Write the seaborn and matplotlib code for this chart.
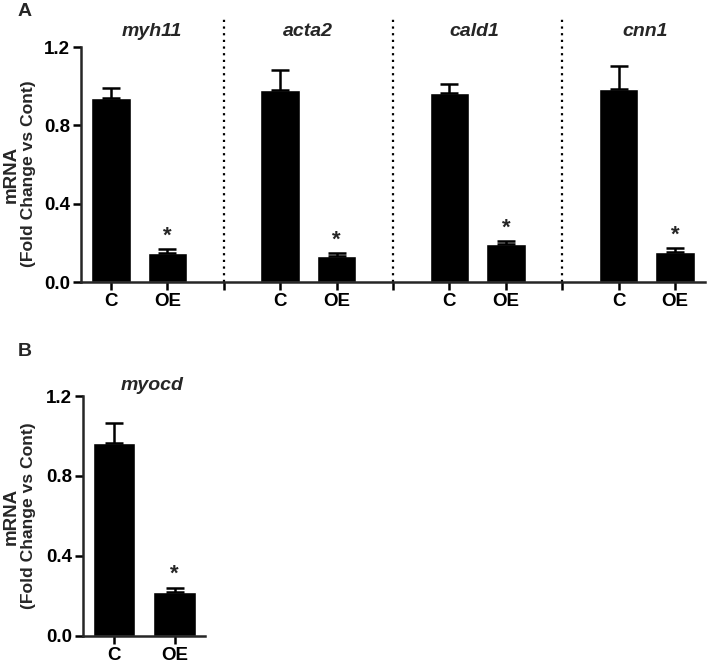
import matplotlib
matplotlib.use("Agg")
import matplotlib.pyplot as plt
import seaborn as sns
import pandas as pd

# datos
genes_a = ["myh11", "acta2", "cald1", "cnn1"]
grupos = ["C", "OE"]
media_c = [0.94, 0.98, 0.965, 0.985]
error_c = [0.05, 0.10, 0.045, 0.12]
media_oe = [0.15, 0.133, 0.194, 0.155]
error_oe = [0.017, 0.017, 0.017, 0.017]

gen_b = "myocd"
media_b = [0.963, 0.218]
error_b = [0.104, 0.024]

sns.set_style("ticks")
plt.rcParams["font.family"] = ["Liberation Sans", "DejaVu Sans"]

# tabla para el panel A, con huecos entre genes
etiquetas = []
valores = []
errores = []
orden = []
for i, g in enumerate(genes_a):
    for grp, m, e in zip(grupos, [media_c[i], media_oe[i]], [error_c[i], error_oe[i]]):
        etiquetas.append(g + " " + grp)
        valores.append(m)
        errores.append(e)
        orden.append(g + " " + grp)
    if i < len(genes_a) - 1:
        orden.append("hueco" + str(i))

df_a = pd.DataFrame({"cat": etiquetas, "valor": valores})
df_b = pd.DataFrame({"cat": grupos, "valor": media_b})

fig = plt.figure(figsize=(7.1, 6.63), dpi=100)
axA = fig.add_axes([81 / 710, 1 - 282 / 663, 624 / 710, 235 / 663])
axB = fig.add_axes([83 / 710, 1 - 636 / 663, 122 / 710, 240 / 663])

sns.barplot(data=df_a, x="cat", y="valor", order=orden, color="black",
            width=0.7, errorbar=None, saturation=1, ax=axA)
sns.barplot(data=df_b, x="cat", y="valor", order=grupos, color="black",
            width=0.7, errorbar=None, saturation=1, ax=axB)

pos_a = [orden.index(c) for c in etiquetas]
axA.errorbar(pos_a, valores, yerr=[[0] * len(errores), errores], fmt="none",
             ecolor="black", elinewidth=1.8, capsize=6.5, capthick=1.8, zorder=1)
axB.errorbar([0, 1], media_b, yerr=[[0, 0], error_b], fmt="none",
             ecolor="black", elinewidth=1.8, capsize=6.5, capthick=1.8, zorder=1)

# asteriscos sobre OE
for i in range(len(genes_a)):
    x = orden.index(genes_a[i] + " OE")
    axA.text(x, media_oe[i] + error_oe[i] + 0.012, "*", ha="center", va="bottom",
             fontsize=16, fontweight="bold")
axB.text(1, media_b[1] + error_b[1] + 0.012, "*", ha="center", va="bottom",
         fontsize=16, fontweight="bold")

# separadores punteados
divisores = [orden.index("hueco" + str(i)) for i in range(len(genes_a) - 1)]
for d in divisores:
    axA.plot([d, d], [0, 1.35], color="black", lw=1.6, linestyle=(0, (1, 2)),
             clip_on=False)

# titulos de cada gen
pos_titulo = [0.73, 3.5, 6.45, 9.47]
for g, xt in zip(genes_a, pos_titulo):
    axA.text(xt, 1.277, g, ha="center", va="center", fontsize=14,
             fontweight="bold", fontstyle="italic")
axB.text(0.63, 1.255, gen_b, ha="center", va="center", fontsize=14,
         fontweight="bold", fontstyle="italic")

for ax in [axA, axB]:
    ax.set_ylim(0, 1.2)
    ax.set_yticks([0, 0.4, 0.8, 1.2])
    ax.set_yticklabels(["0.0", "0.4", "0.8", "1.2"])
    ax.set_xlabel("")
    ax.set_ylabel("")
    for s in ["top", "right"]:
        ax.spines[s].set_visible(False)
    for s in ["left", "bottom"]:
        ax.spines[s].set_linewidth(1.8)
    ax.tick_params(axis="both", direction="out", length=6, width=1.8,
                   labelsize=13.5, colors="black", pad=2)
    for t in ax.get_xticklabels() + ax.get_yticklabels():
        t.set_fontweight("bold")

axA.set_xlim(-0.53, 10.53)
ticks_a = pos_a + divisores
axA.set_xticks(ticks_a)
axA.set_xticklabels([c.split(" ")[1] for c in etiquetas] + [""] * len(divisores),
                    fontweight="bold")
axB.set_xlim(-0.51, 1.5)
axB.set_xticks([0, 1])
axB.set_xticklabels(grupos, fontweight="bold")

for ax, yc in [(axA, 1 - 174 / 663), (axB, 1 - 516 / 663)]:
    fig.text(11 / 710, yc, "mRNA", rotation=90, ha="center", va="center",
             fontsize=13.5, fontweight="bold")
    fig.text(28 / 710, yc, "(Fold Change vs Cont)", rotation=90, ha="center",
             va="center", fontsize=12.6, fontweight="bold")

fig.text(25 / 710, 1 - 11 / 663, "A", ha="center", va="center", fontsize=14,
         fontweight="bold")
fig.text(25 / 710, 1 - 352 / 663, "B", ha="center", va="center", fontsize=14,
         fontweight="bold")

fig.savefig("out.png", dpi=100)
